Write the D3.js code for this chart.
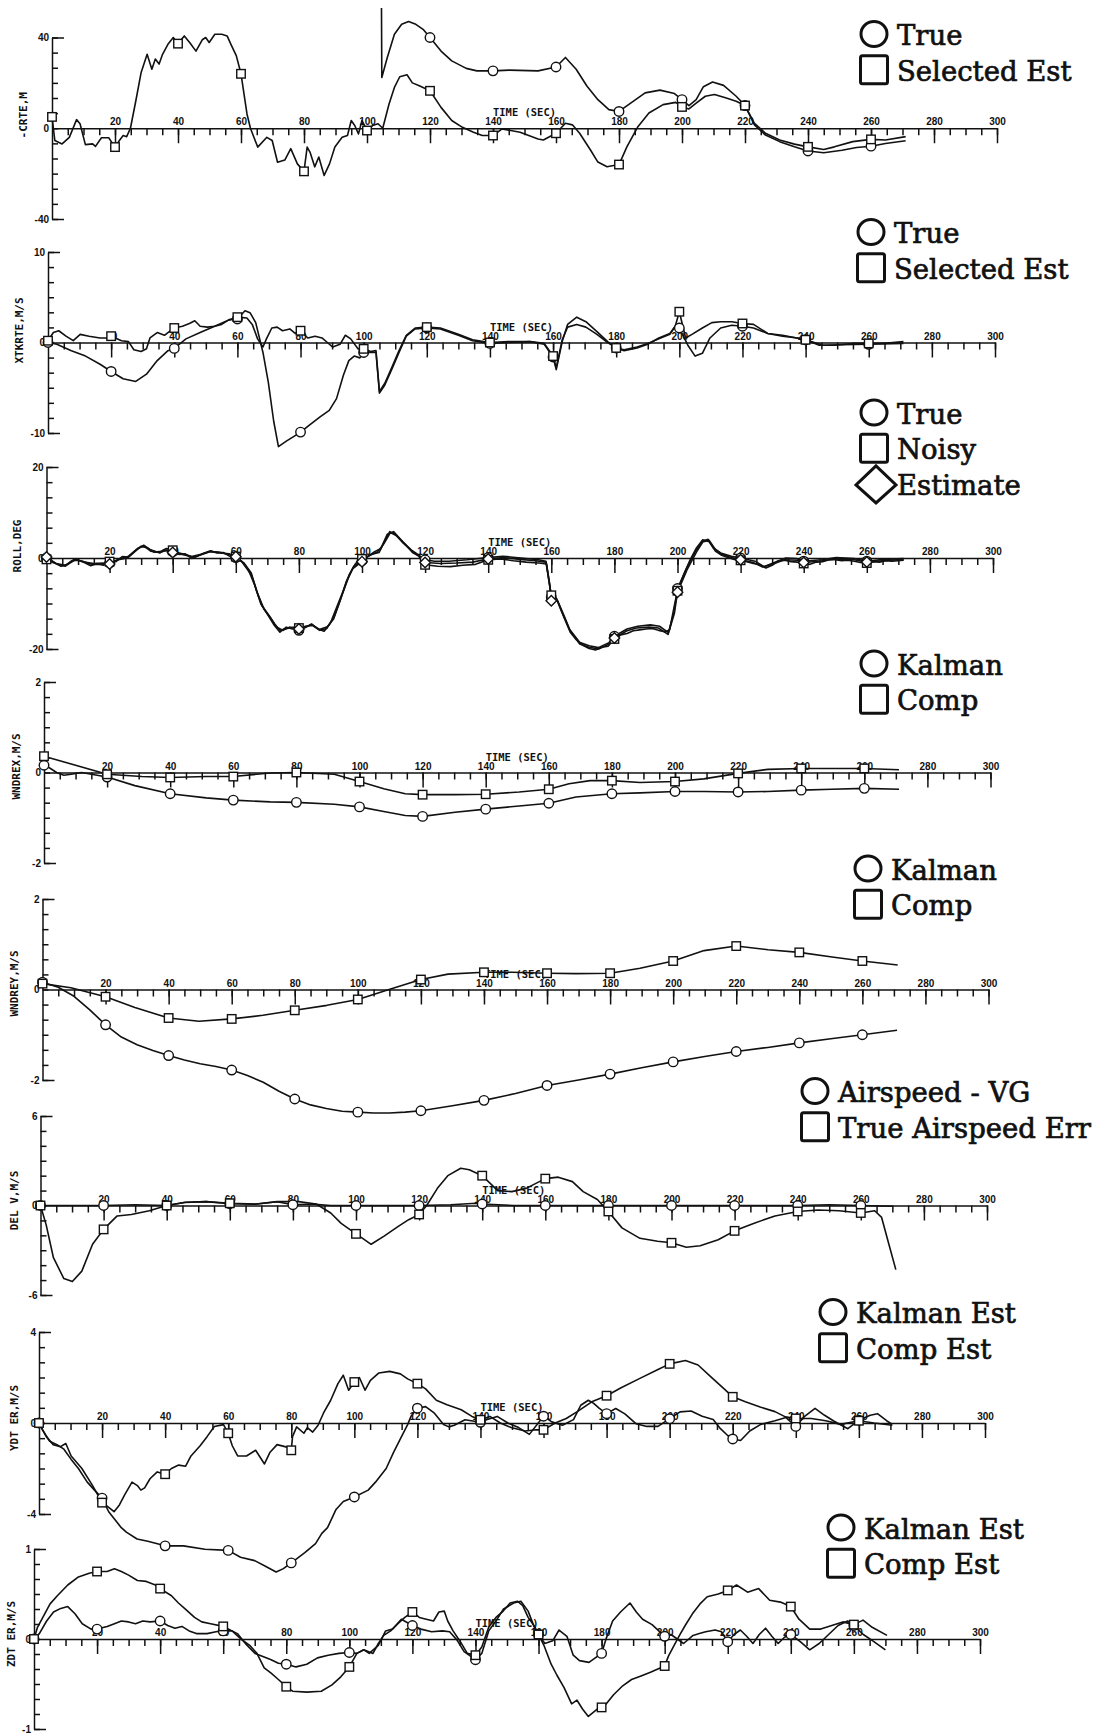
<!DOCTYPE html>
<html>
<head>
<meta charset="utf-8">
<script src="https://cdn.jsdelivr.net/npm/d3@7"></script>
<style>
  html, body { margin: 0; padding: 0; background: #fff; }
  svg { display: block; }
</style>
</head>
<body>
<svg id="chart" width="1115" height="1734"></svg>
<script>
// ---- Flight-test traces: [time (s), value] ----

// Cross-track error, m
const crteTrue = [[104.6,53],[104.7,22.4],[106.4,31],[108.7,41.4],[111,45.8],[113.2,47],[115.5,45.8],[117.8,43.6],[120,40],[123.5,34],[126.9,29.7],[131.5,26.4],[134.9,25.3],[140,25.3],[145.2,25.6],[154.3,25.3],[160,27],[163,31.2],[166.4,26],[169.8,18.6],[173.3,12.6],[176.8,8.2],[180,7.4],[183.7,11.1],[188.3,15.6],[193,16.8],[197.6,15.3],[200,12.6],[202.2,10],[204.5,12.6],[206.8,18.3],[209.7,20.4],[213.2,18.9],[217.2,14.1],[220,10],[223,1.5],[226.5,-3],[231,-5.9],[235.7,-8.2],[240,-10],[245,-10.8],[250.8,-9.7],[255.4,-8.5],[260,-7.9],[264.6,-6.7],[271,-5.5]];
const crteEst = [[0,5],[0.9,-5.4],[3.2,-6.9],[5.5,-4],[7.8,3.8],[8.9,2],[10.6,-7.2],[12.9,-6.9],[13.8,-8],[15.7,-4.2],[18,-4.2],[20,-8.3],[21.4,-5.4],[22.6,-3.2],[23.7,-3.7],[24.9,0],[26.6,12],[28.3,24.6],[30.2,32.6],[31.7,26],[32.8,30.5],[34,28.3],[35.1,32.6],[36.8,37],[38.5,40],[40,37.3],[42,40.7],[43.7,37.8],[45.7,34],[47.7,39],[48.8,40],[49.9,37.8],[51.7,41.4],[53.9,41.4],[55.6,40.7],[56.8,37],[58.5,32],[60,24],[61.9,6.3],[63,0],[65.3,-8.3],[68.2,-4],[69.9,-5.4],[71.6,-15],[73.9,-14],[75.8,-9],[77.9,-15.7],[80,-19],[81,-8.3],[81.9,-10.5],[83.4,-17],[84.7,-12.7],[86.4,-20.8],[88.1,-15.7],[89.8,-8.3],[92.1,-4],[93.8,-3.2],[95,3.4],[96.1,1.2],[97.3,-2.5],[98.4,3.4],[100,-1],[101.8,1.2],[103.5,2],[105,0],[107,10.7],[108.7,18],[110.4,22.7],[112.7,23.6],[114.4,20],[116.6,18.7],[120,16.5],[123.5,9.2],[126.9,3.4],[130.3,0.4],[133.8,-1.8],[136.6,-3.2],[140,-3.2],[142.9,-0.3],[148.6,-1.8],[154.3,-4.7],[156,-5.2],[160,-2.2],[163,2.2],[165.2,1.5],[167.5,-2.2],[171,-9.7],[173.3,-14.9],[176.2,-17],[180,-16],[182.5,-8.2],[186,0.7],[189.5,6.7],[194,10.4],[198,11.4],[200,9.4],[202.2,8.5],[204.5,11.1],[207.4,14.1],[210.3,14.9],[213.8,13.4],[217.2,11.9],[220,10],[223,2.2],[226.5,-2.2],[231,-5.2],[235.7,-7],[240,-8.2],[245,-9.4],[248.4,-8.2],[254.2,-5.9],[260,-4.9],[264.6,-5.2],[271,-3.7]];

// Cross-track rate, m/s
const xtkTrue = [[0,0],[2.8,-0.2],[7.4,-0.9],[11.9,-1.5],[16.5,-2.4],[20,-3.2],[23.8,-4],[27.8,-4.3],[31.2,-3.5],[34.6,-2],[38,-0.9],[40,-0.65],[43.7,0.4],[48.2,1.1],[52.8,1.8],[57.3,2.5],[60,2.6],[62.4,3.5],[64,3.3],[65.8,2.2],[68.1,-1.1],[69.8,-4.4],[71.5,-8.7],[73,-11.5],[75.5,-10.9],[77.8,-10.4],[80,-9.9],[82.9,-9.1],[86.3,-8.2],[89.1,-7.5],[91.4,-6.2],[93.6,-3.6],[95.3,-2],[97,-1.5],[98.8,-1.7],[100,-1.1],[103.9,-1.1],[105,-5.6],[106.7,-4.7],[109,-2.9],[111.2,-1.1],[113.5,0.7],[116.3,1.5],[120,1.6],[124.3,1.5],[130,0.8],[134.5,0.2],[140,-0.1],[145.8,0],[152.7,0.1],[157.2,-0.2],[160,-1.6],[161,-3],[162.9,0.1],[164.6,2],[167.5,2.8],[170.4,2.3],[173.9,1.2],[177.3,0.1],[180,-0.6],[182.5,-0.9],[186.6,-0.6],[190,-0.2],[193.5,0.5],[197,1],[198.7,1.8],[200,1.6],[202.7,-0.3],[205,-1.5],[207.3,-1.2],[209.7,0.5],[213.1,1.6],[216.6,1.9],[220,1.8],[223.5,1.6],[228,1],[232.7,0.8],[240,0.3],[245.5,-0.3],[251,-0.25],[260,-0.2],[271,-0.1]];
const xtkEst = [[0,0.2],[1.7,1.1],[3.4,1.3],[5.7,0.7],[8,0.2],[10.2,0.9],[13,0.7],[16.5,0.5],[18.5,0.5],[20,0.7],[23.3,0.2],[25.5,0.1],[27.2,-0.8],[29.5,-1],[31.2,-0.7],[32.3,0.5],[34.6,1.1],[36.9,0.8],[38,1.1],[40,1.6],[42.6,1.8],[44.8,2.1],[46.5,2.4],[48.2,1.8],[50.5,1.7],[52.8,1.8],[55,2],[57.3,2.5],[60,2.8],[63,2.7],[64.7,2],[66.4,0.4],[68.1,-0.5],[69.2,0.4],[70.9,1.6],[72.6,1.7],[74.3,1.3],[76.6,1.5],[78.3,1],[80,1.3],[82.3,0.5],[84.6,0.7],[86.8,0.5],[88.5,0],[90.2,-0.5],[92.5,-0.2],[94.2,0.8],[95.9,0.4],[98.2,-0.7],[100,-0.7],[102.2,-1],[103.9,-0.9],[105,-5.4],[106.7,-4.5],[109,-2.7],[111.2,-0.9],[113.5,0.8],[116.3,1.6],[120,1.7],[124.3,1.6],[130,0.9],[134.5,0.3],[140,0],[145.8,0.1],[152.7,0.1],[157.2,-0.1],[160,-1.5],[161,-2.8],[162.9,0.3],[164.6,1.7],[167.5,2],[170.4,1.7],[173.9,0.9],[177.3,0],[180,-0.6],[182.5,-0.8],[186.6,-0.5],[190,-0.1],[193.5,0.4],[197,0.9],[198.7,1.8],[200,3.4],[202,0.5],[204,0.9],[207.3,1.6],[210.3,2.2],[213.1,2.3],[216.6,2.3],[220,2.1],[223.5,2],[228,1],[232.7,0.7],[237.4,0.5],[240,0.3],[244.3,-0.3],[248.9,-0.3],[255.8,-0.1],[260,-0.1],[265,-0.1],[271,0.1]];

// Roll angle, deg
const rollTrue = [[0,0],[1.7,-0.7],[4.6,-1.8],[6.8,-1.4],[9.1,-0.4],[11.4,-0.7],[14.2,-1.4],[17.1,-1.4],[20,-1.1],[22.8,-0.4],[25.6,0],[28.5,1.8],[30.8,2.8],[33,1.8],[35.9,1.1],[37.6,1.8],[40,1.4],[42.1,1.1],[44.4,0.7],[46.7,0.1],[49,0.7],[51.8,1.4],[54.7,1.3],[58.1,0.7],[60,0.1],[62.6,-1.1],[64.9,-3.3],[66.6,-7.2],[68.3,-10.5],[70.6,-12.7],[72.3,-14.5],[74,-15.9],[76.3,-15.5],[78.6,-15.2],[80,-15.9],[82,-15],[84.3,-14.8],[86.6,-15.9],[88.8,-15.5],[91.1,-13],[93.4,-8.7],[95.7,-4.3],[97.4,-1.8],[100,-0.6],[102.5,0.7],[105.4,1.2],[107.1,3.6],[108.8,5.8],[110.5,5.2],[112.8,3.6],[115.6,1.8],[117.9,0.7],[120,-0.4],[123,-0.7],[127.6,-0.7],[133.3,-0.4],[140,0.1],[144.6,0.4],[150.3,0],[156,-0.4],[158.3,-0.7],[159.5,-5.8],[160,-8.6],[161.7,-8.9],[163.4,-11.9],[165.7,-15.6],[169.1,-18.6],[172,-19.3],[174.9,-19.7],[178.3,-18.6],[180,-17.2],[184,-15.6],[187.4,-15],[191.4,-14.7],[194.3,-15],[197.1,-16.4],[198.9,-11.9],[200,-6.7],[202.9,-2.2],[205.7,1.5],[208,3.7],[209.7,4.1],[211.4,2.2],[213.7,1.1],[217.1,0.4],[220,0],[224.6,-0.7],[227.4,-1.9],[230.3,-1.1],[234.3,0],[237.7,-0.1],[240,-0.7],[245.7,-0.4],[250.3,0.1],[256,-0.1],[260,-0.7],[265.4,-0.3],[271.7,-0.1]];
const rollNoisy = [[0,-0.3],[2,-1],[4,-1.5],[6,-1.8],[8,-0.6],[10,-0.5],[12,-1],[14,-1.7],[16,-1.2],[18,-1.6],[20,-0.8],[22,-0.8],[24,0.3],[26,0.2],[28,1.4],[30,2.6],[32,2.2],[34,1.3],[36,1.4],[38,2.1],[40,1.7],[42,0.8],[44,0.9],[46,-0.1],[48,0.5],[50,1.1],[52,1.6],[54,1.1],[56,1.2],[58,0.4],[60,0.3],[62,-0.8],[64,-2.6],[66,-6],[68,-10.2],[70,-12.3],[72,-14.6],[74,-16.3],[76,-15.2],[78,-15.6],[80,-15.4],[82,-15.3],[84,-14.5],[86,-15.6],[88,-16.1],[90,-14.3],[92,-10.8],[94,-7.3],[96,-3.6],[98,-1.2],[100,-0.2],[102,0.4],[104,1.4],[106,2.1],[108,5.2],[110,5.8],[112,4.3],[114,2.8],[116,1.2],[118,0.4],[120,-1.5],[124,-1.8],[128,-1.9],[132,-1.6],[136,-1.4],[140,-0.4],[144,-0.2],[148,-0.6],[152,-0.9],[156,-1.1],[158.5,-1.3],[159.6,-6.5],[160,-8.2],[162,-9.6],[164,-13],[166,-16.3],[168,-18],[170,-19.2],[172,-19.9],[174,-20.2],[176,-19.6],[178,-19.4],[180,-17.8],[182,-16.9],[184,-16.6],[186,-16],[188,-15.8],[190,-15.6],[192,-15.5],[194,-15.9],[196,-16.2],[197.5,-15.8],[199,-10.5],[200,-7.2],[202,-3.6],[204,-0.4],[206,2.2],[208,4],[210,3.6],[212,1.5],[214,0.6],[216,0.1],[218,-0.3],[220,-0.5],[222,-0.8],[224,-1.2],[226,-1.4],[228,-2.2],[230,-1.6],[232,-0.6],[234,-0.5],[236,-0.8],[238,-0.9],[240,-1.2],[242,-1.4],[244,-0.9],[246,-0.8],[248,-0.4],[250,-0.4],[252,-0.6],[254,-0.5],[256,-0.7],[258,-1],[260,-1.1],[262,-0.8],[264,-0.9],[266,-0.6],[268,-0.7],[271.7,-0.5]];
const rollEst = [[0,0.2],[3,-1.2],[6,-1.6],[9,-0.2],[12,-0.9],[15,-1.2],[18,-1.1],[20,-1.3],[23,-0.2],[26,0.4],[29,2.2],[31,2.6],[33,1.5],[36,1.3],[38,1.6],[40,1.2],[43,0.8],[46,0.3],[49,0.8],[52,1.5],[55,1.1],[58,0.9],[60,0.3],[62,-0.9],[65,-3.8],[67,-8],[69,-11.3],[71,-13.2],[73,-15.2],[75,-15.9],[77,-15.2],[80,-15.6],[82,-15.2],[84,-14.6],[86.5,-15.7],[89,-15.1],[91,-13.4],[93,-9.5],[95,-5.2],[97,-2.4],[100,-0.8],[102,0.4],[105,1.4],[107,3.2],[109,5.6],[111,4.9],[113,3.3],[116,1.4],[118,0.5],[120,-1],[125,-1.2],[130,-1.1],[135,-0.9],[140,-0.2],[145,0.1],[150,-0.3],[155,-0.6],[158.3,-0.9],[159.5,-6.2],[160,-9.4],[162,-9.4],[164,-12.6],[166,-16],[169,-18.9],[172,-19.6],[175,-20],[178,-19],[180,-17.6],[184,-16],[187,-15.4],[191,-15.2],[194,-15.4],[197,-16.8],[199,-12.2],[200,-7.5],[203,-2.6],[206,1.3],[208,3.5],[210,3.9],[212,1.9],[214,0.8],[217,0.1],[220,-0.4],[224,-1],[227,-2],[230,-1.4],[234,-0.4],[238,-0.5],[240,-1],[245,-0.7],[250,-0.2],[256,-0.4],[260,-0.9],[265,-0.6],[271.7,-0.3]];

// Wind estimates, m/s
const wndxKal = [[0,0.16],[1.8,0.1],[4,0],[6.3,-0.06],[8.6,-0.04],[11.9,0],[20,-0.1],[28.8,-0.29],[40,-0.47],[51.4,-0.56],[60,-0.61],[71.7,-0.65],[80,-0.66],[92,-0.7],[100,-0.76],[107.7,-0.86],[114.5,-0.95],[120,-0.97],[130.3,-0.88],[140,-0.81],[150.6,-0.74],[160,-0.68],[168.6,-0.54],[180,-0.47],[188.9,-0.45],[200,-0.42],[209.1,-0.42],[220,-0.43],[229.4,-0.42],[240,-0.39],[249.7,-0.37],[260,-0.35],[271,-0.37]];
const wndxComp = [[0,0.36],[20,-0.04],[31,-0.09],[40,-0.11],[51.4,-0.09],[60,-0.09],[71.7,-0.01],[80,0],[92,-0.04],[100,-0.2],[107.7,-0.36],[114.5,-0.47],[120,-0.49],[130.3,-0.49],[140,-0.48],[150.6,-0.43],[160,-0.37],[166.4,-0.25],[173.1,-0.18],[180,-0.18],[188.9,-0.22],[200,-0.2],[209.1,-0.14],[220,-0.02],[229.4,0.07],[240,0.09],[249.7,0.09],[260,0.09],[271,0.06]];
const wndyKal = [[0,0.16],[5,0.05],[10,-0.15],[15,-0.45],[20,-0.78],[25,-1.05],[30,-1.22],[35,-1.35],[40,-1.46],[45,-1.56],[50,-1.64],[55,-1.7],[60,-1.78],[65,-1.9],[70,-2.05],[75,-2.25],[80,-2.42],[85,-2.55],[90,-2.63],[95,-2.69],[100,-2.71],[105,-2.73],[110,-2.73],[115,-2.71],[120,-2.68],[130,-2.57],[140,-2.45],[150,-2.3],[160,-2.12],[170,-2],[180,-1.87],[190,-1.73],[200,-1.6],[210,-1.48],[220,-1.37],[230,-1.28],[240,-1.18],[250,-1.09],[260,-1],[271,-0.9]];
const wndyComp = [[0,0.13],[9,0.04],[20,-0.16],[29.3,-0.4],[40,-0.63],[49.6,-0.7],[60,-0.65],[69.9,-0.57],[80,-0.46],[90.2,-0.35],[100,-0.22],[109.4,-0.01],[120,0.22],[128.6,0.34],[140,0.38],[148.9,0.38],[160,0.36],[169.2,0.35],[180,0.36],[189.5,0.47],[200,0.63],[209.8,0.86],[220,0.96],[230.1,0.88],[240,0.82],[250.4,0.72],[260,0.63],[271.2,0.54]];

// Airspeed error, m/s
const delvAir = [[0,0],[10,0],[20,0],[30,0.05],[40,0],[45.8,0.2],[52.5,0.26],[60,0.12],[68,0.08],[75,0.25],[80,0.05],[86,0.1],[92,0],[100,0],[110,0],[120,0],[130,0.05],[138,0.15],[140,0.1],[150,0],[160,0],[170,0],[180,0],[190,0],[200,0],[210,0],[220,0],[230,0],[240,0],[250,0.05],[260,0],[270,-0.05]];
const delvTrue = [[0,0],[1.8,-1.3],[4.1,-3.5],[7.4,-4.9],[10.1,-5.1],[13.1,-4.4],[16.5,-2.6],[20,-1.6],[24.3,-0.7],[28.8,-0.6],[34.5,-0.35],[40,0],[45.8,0.22],[52.5,0.26],[60,0.15],[68.3,0.1],[75,0.26],[81.8,0.26],[87.4,0.1],[92,-0.5],[95.3,-1.2],[100,-1.9],[102.1,-2.2],[104.8,-2.6],[108.9,-2.05],[113.4,-1.4],[116.7,-0.95],[120,-0.6],[122.4,0],[125.8,1.15],[129.1,2],[133.2,2.5],[135.9,2.4],[140,2],[144.9,1],[149.4,0.93],[153.9,1.15],[160,1.8],[164.1,1.9],[168.6,1.6],[172,0.93],[176.5,0.4],[180,-0.4],[184.3,-1.5],[190,-2.2],[195.6,-2.4],[200,-2.5],[204.7,-2.8],[209.1,-2.7],[214.8,-2.3],[220,-1.7],[226,-1.2],[232.8,-0.7],[240,-0.4],[246.4,-0.3],[253.1,-0.35],[260,-0.5],[264.4,-0.35],[266.6,-0.8],[268.9,-2.6],[271.1,-4.3]];

// Lateral / vertical velocity errors, m/s
const ydtKal = [[0,0],[1.1,-0.3],[3.4,-0.8],[5.7,-0.95],[7.9,-1.15],[10.2,-1.6],[12.5,-2],[15.3,-2.6],[17.6,-2.95],[20,-3.3],[22.1,-3.9],[23.8,-4.2],[26.1,-4.6],[27.7,-4.8],[31.1,-5.1],[34.5,-5.2],[40,-5.4],[45.8,-5.4],[52.6,-5.55],[60,-5.6],[63.9,-5.9],[68.4,-6.05],[71.8,-6.3],[75.2,-6.55],[77.5,-6.4],[80,-6.15],[84.3,-5.7],[87.7,-5.3],[89.7,-4.85],[91.5,-4.6],[94.2,-3.8],[96.5,-3.45],[100,-3.25],[104.4,-2.95],[106.7,-2.6],[110.1,-2],[112.4,-1.3],[114.6,-0.7],[116.9,-0.07],[118,0.3],[120,0.65],[122.6,0.72],[125.4,0.43],[128.3,-0.07],[130,-0.17],[131.7,-0.1],[135.1,0.14],[140,0.03],[141.9,0.14],[145.3,0.29],[148.7,0],[152.1,-0.2],[155.5,-0.5],[160,0.3],[162.6,0.05],[166,-0.1],[169.5,0.15],[171.8,0.78],[174.2,1],[175.9,0.86],[177.7,0.64],[180,0.41],[182.9,0.64],[185.8,0.4],[189.3,-0.03],[192.8,-0.15],[196.3,-0.15],[200,0.19],[203.3,0.49],[206.8,0.53],[210.3,0.3],[213.8,0.15],[216.1,-0.25],[218.4,-0.55],[220,-0.7],[222.5,-0.77],[225.4,-0.35],[228.9,-0.06],[233.4,0.1],[236.9,0.24],[240,-0.15],[242.6,0.27],[246.1,0.64],[249,0.35],[251.9,0.1],[256.5,-0.25],[260,0.12],[263.6,0.34],[265.9,0.41],[268.8,0.1],[270.6,-0.06]];
const ydtComp = [[0,0],[2.3,-0.6],[4.5,-0.95],[6.8,-1.04],[8.5,-0.9],[10.2,-1.45],[13.6,-2],[17,-2.75],[20,-3.5],[21.6,-3.65],[23.8,-3.9],[25.5,-3.6],[27.2,-3.15],[29.5,-2.6],[31.2,-2.75],[32.3,-2.95],[33.5,-2.85],[35.2,-2.45],[37.5,-2.15],[40,-2.25],[42,-2],[44.3,-1.85],[46.5,-1.9],[48.2,-1.45],[51.1,-1],[53.3,-0.6],[55.6,-0.15],[58.5,-0.07],[60,-0.45],[61.3,-1],[63,-1.45],[65.8,-1.45],[68.7,-1.2],[71.5,-1.8],[73.2,-1.3],[75.5,-0.95],[78.3,-1.05],[80,-1.2],[80.4,-0.6],[81.7,-0.17],[84,-0.45],[85.1,-0.2],[86.8,-0.4],[88.5,-0.1],[90.2,0.43],[92.5,1],[94.8,1.73],[96.5,2.1],[98.2,1.44],[100,1.8],[101.6,2],[103.4,1.44],[105.1,1.87],[107.8,2.2],[111.2,2.27],[114.6,2.16],[116.9,1.94],[120,1.73],[122.6,1.5],[126,1],[129.4,0.8],[133.9,0.58],[137.3,0.29],[140,0.14],[143,0.29],[146.3,0],[149.7,-0.2],[154.2,-0.35],[157.6,-0.3],[160,-0.3],[163.7,0],[167.2,0.2],[170.7,0.5],[175.3,0.93],[180,1.2],[184.6,1.55],[190.4,1.95],[196.3,2.35],[200,2.6],[205,2.75],[209,2.55],[213.6,1.96],[217.1,1.52],[220,1.15],[224,0.93],[228.7,0.7],[233.4,0.5],[236.7,0.27],[240,0.2],[244.9,0.2],[249.5,0.1],[254.2,-0.06],[260,0.1],[264.8,0],[270.6,-0.1]];
const zdtKal = [[0,0],[1.7,0.06],[4,0.2],[6.2,0.3],[8.5,0.34],[10.7,0.36],[13,0.28],[15.3,0.17],[18.1,0.11],[20,0.11],[23.2,0.14],[25.5,0.17],[27.7,0.2],[30,0.19],[32.2,0.17],[34.5,0.2],[36.8,0.19],[40,0.2],[42.4,0.15],[44.7,0.12],[46.9,0.14],[49.2,0.09],[51.5,0.06],[54.9,0.06],[57.7,0.08],[60,0.09],[62.8,0.09],[64.5,0.06],[67.3,-0.06],[70.1,-0.16],[73,-0.2],[75.2,-0.23],[77.5,-0.27],[80,-0.28],[83.1,-0.31],[86.5,-0.28],[89.9,-0.21],[93.3,-0.18],[96.7,-0.16],[100,-0.15],[102.4,-0.16],[104.6,-0.12],[106.3,-0.16],[109.2,-0.07],[111.5,0.09],[113.7,0.11],[116.5,0.22],[120,0.15],[122.7,0.11],[126.1,0.08],[129.5,0.09],[131.8,0.08],[134.1,-0.01],[136.4,-0.14],[140,-0.23],[142,-0.16],[144.2,0.09],[146.5,0.2],[148.8,0.33],[152.1,0.4],[154.4,0.42],[156.7,0.31],[158.9,0.11],[160,0.05],[162,-0.05],[164.5,-0.02],[166.5,0.1],[169,0.03],[171,-0.18],[173,-0.24],[176,-0.26],[180,-0.16],[181.5,0.01],[183.5,0.2],[186,0.3],[189,0.4],[191,0.3],[193,0.22],[196,0.16],[200,0.03],[202,0.05],[204,0],[206,-0.05],[209,0.04],[211,0.06],[213,0.08],[216,0.1],[218,0.08],[220,-0.03],[222,0.05],[224,0.1],[226,0.03],[228,-0.05],[230,0.05],[232,0.12],[234,0.03],[236,-0.05],[238,0.02],[240,0.05],[243,-0.03],[246,-0.12],[249,-0.05],[252,0.05],[255,0.15],[258,0.2],[260,0.15],[263,0.05],[266,-0.02],[270,-0.12]];
const zdtComp = [[0,0],[1.1,0.13],[2.8,0.24],[5.1,0.39],[7.4,0.48],[10.7,0.6],[14.1,0.69],[17.5,0.73],[20,0.75],[23.2,0.75],[25.5,0.78],[27.7,0.75],[30,0.71],[32.8,0.65],[35.6,0.64],[38.5,0.6],[40,0.56],[43.6,0.48],[45.8,0.4],[48.1,0.33],[50.9,0.24],[53.2,0.19],[56,0.17],[60,0.14],[62.8,0.09],[65.6,0],[68.4,-0.07],[70.7,-0.16],[73,-0.32],[75.2,-0.38],[77.5,-0.45],[80,-0.53],[82,-0.58],[86.5,-0.59],[91.1,-0.58],[94.5,-0.51],[97.3,-0.42],[100,-0.31],[102.4,-0.16],[104.6,-0.12],[107.5,-0.16],[109.2,-0.05],[110.9,0.04],[113.1,0.09],[115.4,0.17],[117.6,0.24],[120,0.3],[122.2,0.24],[124.4,0.22],[126.7,0.2],[128.4,0.3],[130.1,0.31],[131.2,0.2],[132.9,0.09],[135.2,-0.03],[137.4,-0.16],[140,-0.18],[142,-0.09],[144.2,0.13],[146.5,0.24],[148.8,0.31],[151,0.4],[153.3,0.42],[155,0.37],[156.7,0.24],[158.9,0.13],[160,0.05],[161.7,-0.07],[164,-0.28],[165.8,-0.4],[168.1,-0.54],[170.5,-0.72],[172.2,-0.68],[174,-0.78],[175.8,-0.86],[178.6,-0.78],[180,-0.76],[181.5,-0.72],[183.8,-0.62],[186.7,-0.52],[189.5,-0.45],[192.5,-0.41],[195.5,-0.37],[200,-0.3],[201.2,-0.19],[203,-0.07],[204.7,0.04],[206.5,0.15],[208.8,0.28],[211.2,0.39],[213.5,0.47],[217,0.5],[220,0.54],[222.8,0.6],[226.3,0.52],[229.8,0.56],[233.3,0.43],[236.7,0.41],[240,0.36],[242.6,0.22],[246,0.11],[249.5,0.11],[253,0.15],[256.5,0.19],[260,0.16],[262.9,0.21],[265.8,0.13],[270.5,0.04]];

// ---- Panel descriptions ----
const panelTitles = ["-CRTE,M", "XTKRTE,M/S", "ROLL,DEG", "WNDREX,M/S", "WNDREY,M/S", "DEL V,M/S", "YDT ER,M/S", "ZDT ER,M/S"];
const panelLimits = [40, 10, 20, 2, 2, 6, 4, 1];
const legendNames = [
  ["True", "Selected Est"],
  ["True", "Selected Est"],
  ["True", "Noisy", "Estimate"],
  ["Kalman", "Comp"],
  ["Kalman", "Comp"],
  ["Airspeed - VG", "True Airspeed Err"],
  ["Kalman Est", "Comp Est"],
  ["Kalman Est", "Comp Est"]
];
const panelSeries = [
  [crteTrue, crteEst],
  [xtkTrue, xtkEst],
  [rollTrue, rollNoisy, rollEst],
  [wndxKal, wndxComp],
  [wndyKal, wndyComp],
  [delvAir, delvTrue],
  [ydtKal, ydtComp],
  [zdtKal, zdtComp]
];
const seriesShapes = ["circle", "square", "diamond"];
const timeMinor = d3.range(5, 301, 5);
const timeMajor = d3.range(20, 301, 20);
const markerTimes = d3.range(0, 261, 20);

// Page placement of each panel
const layout = [
  { x0: 52,   x1: 997,   yTop: 37.5, yBot: 219,  tx: 24, tdy: -13, lx: 897, ly: 34 },
  { x0: 48,   x1: 995,   yTop: 252,  yBot: 433,  tx: 20, tdy: -12, lx: 894, ly: 232 },
  { x0: 46.5, x1: 993,   yTop: 467,  yBot: 649,  tx: 18, tdy: -12, lx: 897, ly: 412.5 },
  { x0: 44,   x1: 990.5, yTop: 682,  yBot: 863,  tx: 17, tdy: -6,  lx: 897, ly: 663.5 },
  { x0: 42.5, x1: 988.5, yTop: 899,  yBot: 1080, tx: 15, tdy: -6,  lx: 891, ly: 868.5 },
  { x0: 40.5, x1: 987,   yTop: 1116, yBot: 1295, tx: 15, tdy: -5,  lx: 838, ly: 1091 },
  { x0: 39,   x1: 985,   yTop: 1332, yBot: 1514, tx: 15, tdy: -5,  lx: 856, ly: 1312 },
  { x0: 34,   x1: 980,   yTop: 1549, yBot: 1729, tx: 12, tdy: -5,  lx: 864, ly: 1527.5 }
];

const INK = "#111";
const PLOT_FONT = "'DejaVu Sans Mono', monospace";
const svg = d3.select("#chart");
svg.append("rect").attr("width", 1115).attr("height", 1734).attr("fill", "#fff");

function styleAxis(sel, fontSize) {
  sel.attr("font-family", PLOT_FONT).attr("font-size", fontSize).attr("font-weight", "bold");
  sel.selectAll("path, line").attr("stroke", INK).attr("stroke-width", 1.5);
  sel.selectAll("text").attr("fill", INK);
}

function drawMarker(g, shape, cx, cy, s, sw) {
  if (shape === "circle") {
    g.append("circle").attr("cx", cx).attr("cy", cy).attr("r", s / 2)
      .attr("fill", "#fff").attr("stroke", INK).attr("stroke-width", sw);
  } else if (shape === "square") {
    g.append("rect").attr("x", cx - s / 2).attr("y", cy - s / 2).attr("width", s).attr("height", s)
      .attr("fill", "#fff").attr("stroke", INK).attr("stroke-width", sw);
  } else {
    const h = s * 0.62;
    g.append("path").attr("d", `M${cx},${cy - h}L${cx + h},${cy}L${cx},${cy + h}L${cx - h},${cy}Z`)
      .attr("fill", "#fff").attr("stroke", INK).attr("stroke-width", sw);
  }
}

panelTitles.forEach((title, p) => {
  const L = panelLimits[p];
  const lay = layout[p];
  const g = svg.append("g").attr("class", "panel");

  const x = d3.scaleLinear().domain([0, 300]).range([lay.x0, lay.x1]);
  const y = d3.scaleLinear().domain([-L, L]).range([lay.yBot, lay.yTop]);
  const y0 = y(0);

  // Vertical axis: 12 graduations, longer end ticks, end and zero labels
  const yMinor = d3.range(13).map(i => -L + i * L / 6);
  const ya = g.append("g").attr("transform", `translate(${lay.x0},0)`);
  ya.call(d3.axisRight(y).tickValues(yMinor).tickSize(6).tickSizeOuter(0).tickFormat(""));
  const yEnds = ya.append("g").call(d3.axisRight(y).tickValues([-L, L]).tickSize(12).tickFormat(""));
  yEnds.select(".domain").remove();
  const yLab = ya.append("g").call(d3.axisLeft(y).tickValues([-L, 0, L]).tickSize(0).tickPadding(3).tickFormat(d => String(d)));
  yLab.select(".domain").remove();
  styleAxis(ya, 8.5);

  // Time axis through zero: ticks every 5 s, longer every 20 s, labels above
  const xa = g.append("g").attr("transform", `translate(0,${y0})`);
  xa.call(d3.axisBottom(x).tickValues(timeMinor).tickSize(7).tickSizeOuter(0).tickFormat(""));
  const xMaj = xa.append("g").call(d3.axisBottom(x).tickValues(timeMajor).tickSize(15).tickFormat(""));
  xMaj.select(".domain").remove();
  const xLab = xa.append("g").call(d3.axisTop(x).tickValues(timeMajor).tickSize(0).tickPadding(3).tickFormat(d => String(d)));
  xLab.select(".domain").remove();
  styleAxis(xa, 8.5);

  g.append("text")
    .attr("x", x(140)).attr("y", y0 - 12)
    .attr("font-family", PLOT_FONT).attr("font-size", 10.5).attr("font-weight", "bold")
    .attr("textLength", x(160) - x(140)).attr("lengthAdjust", "spacingAndGlyphs")
    .attr("fill", INK)
    .text("TIME (SEC)");

  // Rotated quantity label
  g.append("text")
    .attr("transform", `translate(${lay.tx},${y0 + lay.tdy}) rotate(-90)`)
    .attr("text-anchor", "middle").attr("dominant-baseline", "middle")
    .attr("font-family", PLOT_FONT).attr("font-size", 11).attr("font-weight", "bold").attr("fill", INK)
    .text(title);

  // Traces and their 20-second symbols
  const line = d3.line().x(d => x(d[0])).y(d => y(d[1])).curve(d3.curveLinear);
  panelSeries[p].forEach(series => {
    g.append("path").datum(series).attr("d", line)
      .attr("fill", "none").attr("stroke", INK).attr("stroke-width", 1.6)
      .attr("stroke-linejoin", "round");
  });
  panelSeries[p].forEach((series, s) => {
    const shape = seriesShapes[s];
    series.filter(d => markerTimes.includes(d[0])).forEach(d => {
      drawMarker(g, shape, x(d[0]), y(d[1]), shape === "circle" ? 9.5 : 8.5, 1.4);
    });
  });

  // Legend
  legendNames[p].forEach((name, i) => {
    const cy = lay.ly + i * 35.7;
    const cx = lay.lx - 23;
    const shape = seriesShapes[i];
    if (shape === "circle") {
      g.append("ellipse").attr("cx", cx).attr("cy", cy).attr("rx", 13).attr("ry", 12.5)
        .attr("fill", "none").attr("stroke", INK).attr("stroke-width", 3);
    } else if (shape === "square") {
      g.append("rect").attr("x", cx - 13.5).attr("y", cy - 14).attr("width", 27).attr("height", 28).attr("rx", 2)
        .attr("fill", "none").attr("stroke", INK).attr("stroke-width", 3);
    } else {
      g.append("path").attr("d", `M${cx + 2},${cy - 18}L${cx + 22},${cy + 1}L${cx + 2},${cy + 19}L${cx - 18},${cy + 1}Z`)
        .attr("fill", "none").attr("stroke", INK).attr("stroke-width", 3);
    }
    g.append("text")
      .attr("x", lay.lx).attr("y", cy + 11)
      .attr("font-family", "'DejaVu Serif', serif").attr("font-size", 27.5)
      .attr("fill", INK).attr("stroke", INK).attr("stroke-width", 0.7)
      .text(name);
  });
});
</script>
</body>
</html>
